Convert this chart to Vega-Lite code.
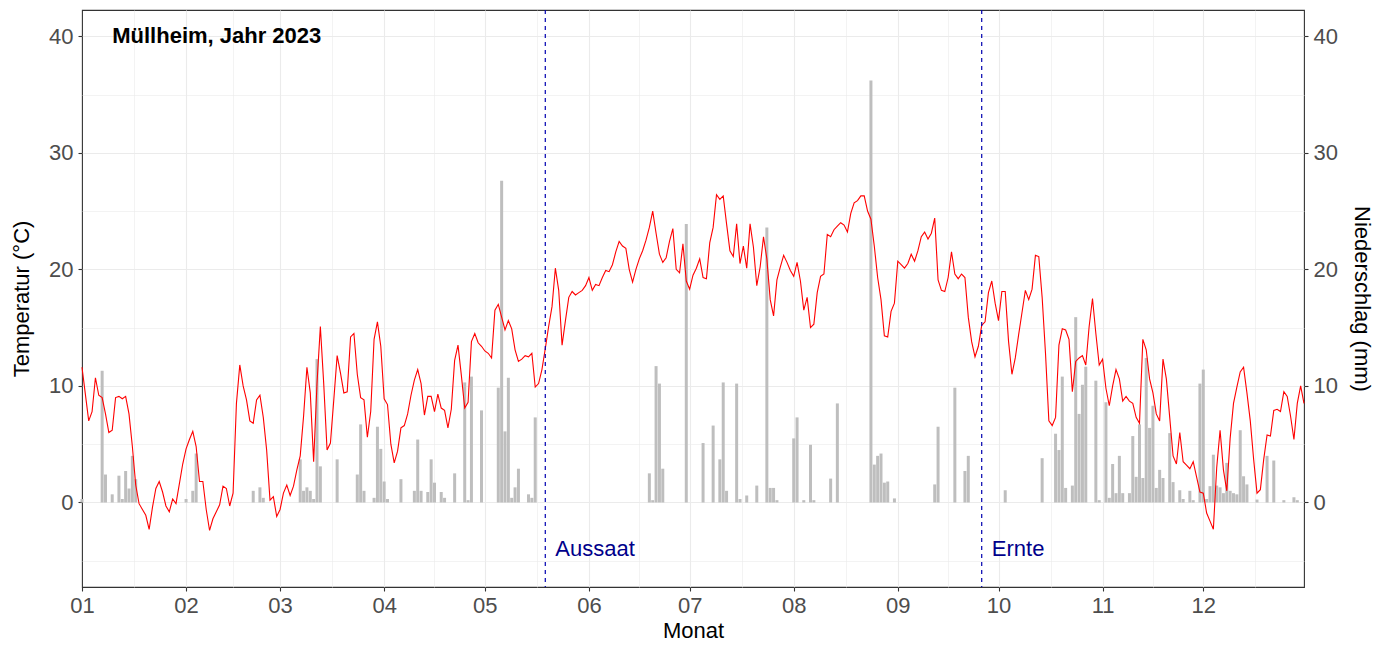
{
  "$schema": "https://vega.github.io/schema/vega-lite/v6.json",
  "autosize": {"type": "none"},
  "padding": {"left": 82, "top": 10, "right": 85, "bottom": 58},
  "width": 1222,
  "height": 577,
  "background": "#FFFFFF",
  "datasets": {
    "w": [
      {"d":"2023-01-01","t":11.6,"p":0.3},{"d":"2023-01-02","t":9.3},{"d":"2023-01-03","t":7.0},{"d":"2023-01-04","t":7.8},{"d":"2023-01-05","t":10.7},{"d":"2023-01-06","t":9.2},{"d":"2023-01-07","t":9.0,"p":11.3},{"d":"2023-01-08","t":7.6,"p":2.4},{"d":"2023-01-09","t":6.0},{"d":"2023-01-10","t":6.2,"p":0.7},{"d":"2023-01-11","t":9.0},{"d":"2023-01-12","t":9.1,"p":2.3},{"d":"2023-01-13","t":8.9,"p":0.3},{"d":"2023-01-14","t":9.1,"p":2.7},{"d":"2023-01-15","t":7.6,"p":1.2},{"d":"2023-01-16","t":4.8,"p":4.0},{"d":"2023-01-17","t":1.5,"p":2.0},{"d":"2023-01-18","t":-0.1},{"d":"2023-01-19","t":-0.6},{"d":"2023-01-20","t":-1.1},{"d":"2023-01-21","t":-2.3},{"d":"2023-01-22","t":-0.4},{"d":"2023-01-23","t":1.2},{"d":"2023-01-24","t":1.8},{"d":"2023-01-25","t":0.9},{"d":"2023-01-26","t":-0.3},{"d":"2023-01-27","t":-0.8},{"d":"2023-01-28","t":0.3},{"d":"2023-01-29","t":-0.1},{"d":"2023-01-30","t":1.6},{"d":"2023-01-31","t":3.3},
      {"d":"2023-02-01","t":4.6,"p":0.3},{"d":"2023-02-02","t":5.4},{"d":"2023-02-03","t":6.1,"p":1.0},{"d":"2023-02-04","t":4.8,"p":4.2},{"d":"2023-02-05","t":1.8},{"d":"2023-02-06","t":1.8},{"d":"2023-02-07","t":-0.6},{"d":"2023-02-08","t":-2.4},{"d":"2023-02-09","t":-1.4},{"d":"2023-02-10","t":-0.8},{"d":"2023-02-11","t":-0.2},{"d":"2023-02-12","t":1.4},{"d":"2023-02-13","t":1.2},{"d":"2023-02-14","t":-0.3},{"d":"2023-02-15","t":0.8},{"d":"2023-02-16","t":8.5},{"d":"2023-02-17","t":11.8},{"d":"2023-02-18","t":10.0},{"d":"2023-02-19","t":8.8},{"d":"2023-02-20","t":7.0},{"d":"2023-02-21","t":6.8,"p":1.0},{"d":"2023-02-22","t":8.8},{"d":"2023-02-23","t":9.2,"p":1.3},{"d":"2023-02-24","t":7.3,"p":0.4},{"d":"2023-02-25","t":4.5},{"d":"2023-02-26","t":0.2},{"d":"2023-02-27","t":0.5},{"d":"2023-02-28","t":-1.2},
      {"d":"2023-03-01","t":-0.6},{"d":"2023-03-02","t":0.8},{"d":"2023-03-03","t":1.5},{"d":"2023-03-04","t":0.6},{"d":"2023-03-05","t":1.4},{"d":"2023-03-06","t":2.8},{"d":"2023-03-07","t":4.0,"p":3.7},{"d":"2023-03-08","t":7.4,"p":1.0},{"d":"2023-03-09","t":11.6,"p":1.3},{"d":"2023-03-10","t":9.4,"p":1.0},{"d":"2023-03-11","t":3.5,"p":0.3},{"d":"2023-03-12","t":10.2,"p":12.3},{"d":"2023-03-13","t":15.1,"p":3.1},{"d":"2023-03-14","t":10.2},{"d":"2023-03-15","t":4.5},{"d":"2023-03-16","t":5.1},{"d":"2023-03-17","t":8.8},{"d":"2023-03-18","t":12.6,"p":3.7},{"d":"2023-03-19","t":11.1},{"d":"2023-03-20","t":9.4},{"d":"2023-03-21","t":9.5},{"d":"2023-03-22","t":14.2},{"d":"2023-03-23","t":14.5},{"d":"2023-03-24","t":11.0,"p":2.4},{"d":"2023-03-25","t":9.0,"p":6.7},{"d":"2023-03-26","t":8.8,"p":1.0},{"d":"2023-03-27","t":5.6},{"d":"2023-03-28","t":7.8},{"d":"2023-03-29","t":14.0,"p":0.4},{"d":"2023-03-30","t":15.5,"p":6.5},{"d":"2023-03-31","t":13.4,"p":4.6},
      {"d":"2023-04-01","t":8.9,"p":1.8},{"d":"2023-04-02","t":8.4,"p":0.3},{"d":"2023-04-03","t":5.0},{"d":"2023-04-04","t":3.4},{"d":"2023-04-05","t":4.4},{"d":"2023-04-06","t":6.4,"p":2.0},{"d":"2023-04-07","t":6.6},{"d":"2023-04-08","t":7.6},{"d":"2023-04-09","t":9.2},{"d":"2023-04-10","t":10.5,"p":1.0},{"d":"2023-04-11","t":11.4,"p":5.4},{"d":"2023-04-12","t":10.2,"p":1.0},{"d":"2023-04-13","t":7.5},{"d":"2023-04-14","t":9.1,"p":0.9},{"d":"2023-04-15","t":9.1,"p":3.7},{"d":"2023-04-16","t":7.8,"p":1.7},{"d":"2023-04-17","t":9.3},{"d":"2023-04-18","t":8.1,"p":0.9},{"d":"2023-04-19","t":7.9,"p":0.4},{"d":"2023-04-20","t":6.4},{"d":"2023-04-21","t":8.0},{"d":"2023-04-22","t":12.2,"p":2.5},{"d":"2023-04-23","t":13.5},{"d":"2023-04-24","t":10.9},{"d":"2023-04-25","t":8.1,"p":10.3},{"d":"2023-04-26","t":8.6,"p":0.2},{"d":"2023-04-27","t":13.8,"p":10.8},{"d":"2023-04-28","t":14.5},{"d":"2023-04-29","t":13.7},{"d":"2023-04-30","t":13.4,"p":7.9},
      {"d":"2023-05-01","t":13.0},{"d":"2023-05-02","t":12.8},{"d":"2023-05-03","t":12.4},{"d":"2023-05-04","t":16.5},{"d":"2023-05-05","t":17.0,"p":9.85},{"d":"2023-05-06","t":15.9,"p":27.6},{"d":"2023-05-07","t":14.8,"p":6.1},{"d":"2023-05-08","t":15.6,"p":10.7},{"d":"2023-05-09","t":14.9,"p":0.4},{"d":"2023-05-10","t":13.1,"p":1.3},{"d":"2023-05-11","t":12.1,"p":2.9},{"d":"2023-05-12","t":12.3},{"d":"2023-05-13","t":12.6},{"d":"2023-05-14","t":12.5,"p":0.7},{"d":"2023-05-15","t":12.8,"p":0.4},{"d":"2023-05-16","t":9.9,"p":7.3},{"d":"2023-05-17","t":10.2},{"d":"2023-05-18","t":11.4},{"d":"2023-05-19","t":13.2},{"d":"2023-05-20","t":15.1},{"d":"2023-05-21","t":16.8},{"d":"2023-05-22","t":20.1},{"d":"2023-05-23","t":18.2},{"d":"2023-05-24","t":13.5},{"d":"2023-05-25","t":15.6},{"d":"2023-05-26","t":17.6},{"d":"2023-05-27","t":18.1},{"d":"2023-05-28","t":17.8},{"d":"2023-05-29","t":18.0},{"d":"2023-05-30","t":18.2},{"d":"2023-05-31","t":18.6},
      {"d":"2023-06-01","t":19.3},{"d":"2023-06-02","t":18.2},{"d":"2023-06-03","t":18.7},{"d":"2023-06-04","t":18.6},{"d":"2023-06-05","t":19.3},{"d":"2023-06-06","t":19.9},{"d":"2023-06-07","t":19.8},{"d":"2023-06-08","t":20.4},{"d":"2023-06-09","t":21.5},{"d":"2023-06-10","t":22.4},{"d":"2023-06-11","t":22.0},{"d":"2023-06-12","t":21.8},{"d":"2023-06-13","t":20.0},{"d":"2023-06-14","t":18.9},{"d":"2023-06-15","t":20.0},{"d":"2023-06-16","t":20.9},{"d":"2023-06-17","t":21.6},{"d":"2023-06-18","t":22.5},{"d":"2023-06-19","t":23.6,"p":2.5},{"d":"2023-06-20","t":25.0,"p":0.2},{"d":"2023-06-21","t":23.1,"p":11.7},{"d":"2023-06-22","t":21.3,"p":10.2},{"d":"2023-06-23","t":20.6,"p":2.9},{"d":"2023-06-24","t":21.0},{"d":"2023-06-25","t":22.4},{"d":"2023-06-26","t":23.5},{"d":"2023-06-27","t":20.0},{"d":"2023-06-28","t":19.7},{"d":"2023-06-29","t":22.2},{"d":"2023-06-30","t":19.0,"p":23.9},
      {"d":"2023-07-01","t":18.3},{"d":"2023-07-02","t":19.5},{"d":"2023-07-03","t":20.1},{"d":"2023-07-04","t":20.9},{"d":"2023-07-05","t":19.3,"p":5.1},{"d":"2023-07-06","t":19.2},{"d":"2023-07-07","t":22.3},{"d":"2023-07-08","t":23.6,"p":6.6},{"d":"2023-07-09","t":26.4},{"d":"2023-07-10","t":26.0,"p":3.7},{"d":"2023-07-11","t":26.3,"p":10.3},{"d":"2023-07-12","t":23.9,"p":1.0},{"d":"2023-07-13","t":21.6},{"d":"2023-07-14","t":21.1},{"d":"2023-07-15","t":23.9,"p":10.2},{"d":"2023-07-16","t":20.5,"p":0.3},{"d":"2023-07-17","t":22.0},{"d":"2023-07-18","t":20.1,"p":0.6},{"d":"2023-07-19","t":23.9},{"d":"2023-07-20","t":21.9},{"d":"2023-07-21","t":18.6,"p":1.45},{"d":"2023-07-22","t":20.2},{"d":"2023-07-23","t":22.8},{"d":"2023-07-24","t":20.9,"p":23.6},{"d":"2023-07-25","t":17.4,"p":1.25},{"d":"2023-07-26","t":16.0,"p":1.25},{"d":"2023-07-27","t":19.1,"p":0.2},{"d":"2023-07-28","t":20.2},{"d":"2023-07-29","t":21.2},{"d":"2023-07-30","t":20.6},{"d":"2023-07-31","t":19.9},
      {"d":"2023-08-01","t":19.4,"p":5.5},{"d":"2023-08-02","t":20.6,"p":7.3},{"d":"2023-08-03","t":19.0},{"d":"2023-08-04","t":16.5,"p":0.2},{"d":"2023-08-05","t":17.6},{"d":"2023-08-06","t":15.0,"p":4.95},{"d":"2023-08-07","t":15.3,"p":0.2},{"d":"2023-08-08","t":18.0},{"d":"2023-08-09","t":19.4},{"d":"2023-08-10","t":19.6},{"d":"2023-08-11","t":23.0},{"d":"2023-08-12","t":22.8,"p":2.05},{"d":"2023-08-13","t":23.4},{"d":"2023-08-14","t":23.7,"p":8.5},{"d":"2023-08-15","t":24.0},{"d":"2023-08-16","t":23.8},{"d":"2023-08-17","t":23.2},{"d":"2023-08-18","t":24.8},{"d":"2023-08-19","t":25.7},{"d":"2023-08-20","t":25.9},{"d":"2023-08-21","t":26.3},{"d":"2023-08-22","t":26.3},{"d":"2023-08-23","t":25.0},{"d":"2023-08-24","t":24.3,"p":36.2},{"d":"2023-08-25","t":22.0,"p":3.25},{"d":"2023-08-26","t":19.3,"p":4.0},{"d":"2023-08-27","t":17.4,"p":4.2},{"d":"2023-08-28","t":14.3,"p":1.7},{"d":"2023-08-29","t":14.2,"p":1.8},{"d":"2023-08-30","t":16.4},{"d":"2023-08-31","t":17.1,"p":0.35},
      {"d":"2023-09-01","t":20.7},{"d":"2023-09-02","t":20.4},{"d":"2023-09-03","t":20.1},{"d":"2023-09-04","t":20.5},{"d":"2023-09-05","t":21.3},{"d":"2023-09-06","t":20.7},{"d":"2023-09-07","t":21.6},{"d":"2023-09-08","t":22.8},{"d":"2023-09-09","t":23.2},{"d":"2023-09-10","t":22.6},{"d":"2023-09-11","t":23.1},{"d":"2023-09-12","t":24.4,"p":1.55},{"d":"2023-09-13","t":19.1,"p":6.5},{"d":"2023-09-14","t":18.2},{"d":"2023-09-15","t":18.1},{"d":"2023-09-16","t":19.3},{"d":"2023-09-17","t":21.5},{"d":"2023-09-18","t":19.6,"p":9.85},{"d":"2023-09-19","t":19.2},{"d":"2023-09-20","t":19.6},{"d":"2023-09-21","t":19.3,"p":2.7},{"d":"2023-09-22","t":15.9,"p":4.0},{"d":"2023-09-23","t":13.8},{"d":"2023-09-24","t":12.5},{"d":"2023-09-25","t":13.4},{"d":"2023-09-26","t":15.2},{"d":"2023-09-27","t":15.5},{"d":"2023-09-28","t":18.0},{"d":"2023-09-29","t":19.0},{"d":"2023-09-30","t":17.1},
      {"d":"2023-10-01","t":15.6},{"d":"2023-10-02","t":18.1},{"d":"2023-10-03","t":18.1,"p":1.05},{"d":"2023-10-04","t":13.8},{"d":"2023-10-05","t":11.0},{"d":"2023-10-06","t":12.4},{"d":"2023-10-07","t":14.4},{"d":"2023-10-08","t":16.3},{"d":"2023-10-09","t":18.2},{"d":"2023-10-10","t":17.4},{"d":"2023-10-11","t":18.3},{"d":"2023-10-12","t":21.2},{"d":"2023-10-13","t":21.1},{"d":"2023-10-14","t":17.6,"p":3.8},{"d":"2023-10-15","t":12.8},{"d":"2023-10-16","t":7.0},{"d":"2023-10-17","t":6.6},{"d":"2023-10-18","t":7.3,"p":5.9},{"d":"2023-10-19","t":13.5,"p":4.5},{"d":"2023-10-20","t":14.9,"p":10.8},{"d":"2023-10-21","t":14.8,"p":1.25},{"d":"2023-10-22","t":14.0},{"d":"2023-10-23","t":9.5,"p":1.45},{"d":"2023-10-24","t":12.1,"p":15.9},{"d":"2023-10-25","t":12.4,"p":7.6},{"d":"2023-10-26","t":12.6,"p":10.1},{"d":"2023-10-27","t":11.8,"p":11.65},{"d":"2023-10-28","t":15.1},{"d":"2023-10-29","t":17.5},{"d":"2023-10-30","t":14.5,"p":10.45},{"d":"2023-10-31","t":11.8,"p":0.2},
      {"d":"2023-11-01","t":12.3},{"d":"2023-11-02","t":9.8,"p":8.6},{"d":"2023-11-03","t":8.3,"p":0.4},{"d":"2023-11-04","t":10.0,"p":3.3},{"d":"2023-11-05","t":11.4,"p":0.8},{"d":"2023-11-06","t":10.6,"p":4.0},{"d":"2023-11-07","t":8.7,"p":0.8},{"d":"2023-11-08","t":9.1},{"d":"2023-11-09","t":8.7,"p":0.8},{"d":"2023-11-10","t":8.5,"p":5.7},{"d":"2023-11-11","t":7.3,"p":2.2},{"d":"2023-11-12","t":6.8,"p":6.7},{"d":"2023-11-13","t":14.0,"p":2.1},{"d":"2023-11-14","t":13.1,"p":12.4},{"d":"2023-11-15","t":10.6,"p":6.4},{"d":"2023-11-16","t":9.4,"p":8.3},{"d":"2023-11-17","t":7.6,"p":1.25},{"d":"2023-11-18","t":7.0,"p":2.8},{"d":"2023-11-19","t":12.3,"p":2.1},{"d":"2023-11-20","t":10.6},{"d":"2023-11-21","t":7.3,"p":5.95},{"d":"2023-11-22","t":4.0,"p":1.75},{"d":"2023-11-23","t":3.3},{"d":"2023-11-24","t":6.0,"p":1.05},{"d":"2023-11-25","t":3.5,"p":0.3},{"d":"2023-11-26","t":3.2},{"d":"2023-11-27","t":2.9,"p":1.0},{"d":"2023-11-28","t":3.5,"p":0.2},{"d":"2023-11-29","t":2.2},{"d":"2023-11-30","t":0.9,"p":10.2},
      {"d":"2023-12-01","t":0.8,"p":11.4},{"d":"2023-12-02","t":-0.9,"p":0.3},{"d":"2023-12-03","t":-1.6,"p":1.4},{"d":"2023-12-04","t":-2.3,"p":4.1},{"d":"2023-12-05","t":3.0,"p":1.45},{"d":"2023-12-06","t":6.2,"p":1.3},{"d":"2023-12-07","t":2.8,"p":0.8},{"d":"2023-12-08","t":1.0,"p":3.4},{"d":"2023-12-09","t":5.5,"p":1.0},{"d":"2023-12-10","t":8.5,"p":0.8},{"d":"2023-12-11","t":9.9,"p":0.7},{"d":"2023-12-12","t":11.2,"p":6.2},{"d":"2023-12-13","t":11.6,"p":2.25},{"d":"2023-12-14","t":9.4,"p":1.55},{"d":"2023-12-15","t":7.0},{"d":"2023-12-16","t":3.7},{"d":"2023-12-17","t":0.8,"p":0.25},{"d":"2023-12-18","t":1.1},{"d":"2023-12-19","t":3.7},{"d":"2023-12-20","t":5.8,"p":4.0},{"d":"2023-12-21","t":5.7},{"d":"2023-12-22","t":7.9,"p":3.6},{"d":"2023-12-23","t":8.0},{"d":"2023-12-24","t":7.8},{"d":"2023-12-25","t":9.5,"p":0.2},{"d":"2023-12-26","t":9.1},{"d":"2023-12-27","t":7.4},{"d":"2023-12-28","t":5.4,"p":0.45},{"d":"2023-12-29","t":8.5,"p":0.2},{"d":"2023-12-30","t":10.0},{"d":"2023-12-31","t":8.5}
    ],
    "ev": [
      {"d":"2023-05-19","label":"Aussaat"},
      {"d":"2023-09-26","label":"Ernte"}
    ],
    "evtext": [
      {"d":"2023-05-22","y":-4,"label":"Aussaat"},
      {"d":"2023-09-29","y":-4,"label":"Ernte"}
    ],
    "ttl": [
      {"d":"2023-01-10","y":40,"label":"Müllheim, Jahr 2023"}
    ]
  },
  "encoding": {
    "x": {
      "field": "d",
      "type": "temporal",
      "scale": {
        "type": "utc",
        "nice": false,
        "padding": 0,
        "domain": [
          {"year": 2023, "month": 1, "date": 1, "utc": true},
          {"year": 2023, "month": 12, "date": 31, "utc": true}
        ]
      },
      "axis": {
        "title": "Monat",
        "values": [
          {"year": 2023, "month": 1, "date": 1, "utc": true},
          {"year": 2023, "month": 1, "date": 16, "hours": 12, "utc": true},
          {"year": 2023, "month": 2, "date": 1, "utc": true},
          {"year": 2023, "month": 2, "date": 15, "utc": true},
          {"year": 2023, "month": 3, "date": 1, "utc": true},
          {"year": 2023, "month": 3, "date": 16, "hours": 12, "utc": true},
          {"year": 2023, "month": 4, "date": 1, "utc": true},
          {"year": 2023, "month": 4, "date": 16, "utc": true},
          {"year": 2023, "month": 5, "date": 1, "utc": true},
          {"year": 2023, "month": 5, "date": 16, "hours": 12, "utc": true},
          {"year": 2023, "month": 6, "date": 1, "utc": true},
          {"year": 2023, "month": 6, "date": 16, "utc": true},
          {"year": 2023, "month": 7, "date": 1, "utc": true},
          {"year": 2023, "month": 7, "date": 16, "hours": 12, "utc": true},
          {"year": 2023, "month": 8, "date": 1, "utc": true},
          {"year": 2023, "month": 8, "date": 16, "hours": 12, "utc": true},
          {"year": 2023, "month": 9, "date": 1, "utc": true},
          {"year": 2023, "month": 9, "date": 16, "utc": true},
          {"year": 2023, "month": 10, "date": 1, "utc": true},
          {"year": 2023, "month": 10, "date": 16, "hours": 12, "utc": true},
          {"year": 2023, "month": 11, "date": 1, "utc": true},
          {"year": 2023, "month": 11, "date": 16, "utc": true},
          {"year": 2023, "month": 12, "date": 1, "utc": true},
          {"year": 2023, "month": 12, "date": 16, "hours": 12, "utc": true}
        ],
        "labelExpr": "utcdate(datum.value) == 1 ? utcFormat(datum.value, '%m') : ''",
        "tickOpacity": {"condition": {"test": "utcdate(datum.value) != 1", "value": 0}, "value": 1},
        "gridWidth": {"condition": {"test": "utcdate(datum.value) != 1", "value": 0.6}, "value": 1.1},
        "gridOpacity": {"condition": {"test": "utcmonth(datum.value) == 0 && utcdate(datum.value) == 1", "value": 0}, "value": 1},
        "labelFlush": false,
        "labelOverlap": false,
        "labelPadding": 4,
        "titlePadding": 4
      }
    }
  },
  "layer": [
    {
      "data": {"name": "w"},
      "transform": [{"filter": "isValid(datum.p)"}],
      "mark": {"type": "bar", "color": "#BEBEBE", "size": 3},
      "encoding": {
        "y": {
          "field": "p",
          "type": "quantitative",
          "scale": {"domain": [-7.25, 42.25], "nice": false, "zero": false},
          "axis": {
            "orient": "right",
            "title": "Niederschlag (mm)",
            "values": [0, 10, 20, 30, 40],
            "grid": false,
            "labelPadding": 5,
            "titlePadding": 12
          }
        }
      }
    },
    {
      "data": {"name": "w"},
      "mark": {"type": "line", "color": "#FF0000", "strokeWidth": 1.1},
      "encoding": {
        "y": {
          "field": "t",
          "type": "quantitative",
          "scale": {"domain": [-7.25, 42.25], "nice": false, "zero": false},
          "axis": {
            "orient": "left",
            "title": "Temperatur (°C)",
            "grid": true,
            "values": [-5, 0, 5, 10, 15, 20, 25, 30, 35, 40],
            "labelExpr": "datum.value % 10 == 0 ? format(datum.value, 'd') : ''",
            "tickOpacity": {"condition": {"test": "datum.value % 10 != 0", "value": 0}, "value": 1},
            "gridWidth": {"condition": {"test": "datum.value % 10 != 0", "value": 0.6}, "value": 1.1},
            "labelPadding": 5,
            "titlePadding": 15
          }
        }
      }
    },
    {
      "data": {"name": "ev"},
      "mark": {"type": "rule", "color": "#0000B0", "strokeDash": [4, 4], "strokeWidth": 1.2},
      "encoding": {}
    },
    {
      "data": {"name": "evtext"},
      "mark": {"type": "text", "color": "#00008B", "fontSize": 22, "align": "left", "baseline": "middle", "font": "Liberation Sans"},
      "encoding": {
        "y": {"field": "y", "type": "quantitative", "scale": {"domain": [-7.25, 42.25], "nice": false, "zero": false}, "axis": null},
        "text": {"field": "label"}
      }
    },
    {
      "data": {"name": "ttl"},
      "mark": {"type": "text", "color": "#000000", "fontSize": 22, "fontWeight": "bold", "align": "left", "baseline": "middle", "font": "Liberation Sans"},
      "encoding": {
        "y": {"field": "y", "type": "quantitative", "scale": {"domain": [-7.25, 42.25], "nice": false, "zero": false}, "axis": null},
        "text": {"field": "label"}
      }
    }
  ],
  "resolve": {"axis": {"y": "independent"}},
  "config": {
    "font": "Liberation Sans",
    "view": {"stroke": "#333333", "strokeWidth": 1.1},
    "axis": {
      "domain": false,
      "labelFont": "Liberation Sans",
      "titleFont": "Liberation Sans",
      "labelFontSize": 22,
      "labelColor": "#4D4D4D",
      "titleFontSize": 22,
      "titleColor": "#000000",
      "titleFontWeight": "normal",
      "tickColor": "#333333",
      "tickSize": 4,
      "tickWidth": 1.1,
      "gridColor": "#EBEBEB"
    }
  }
}
